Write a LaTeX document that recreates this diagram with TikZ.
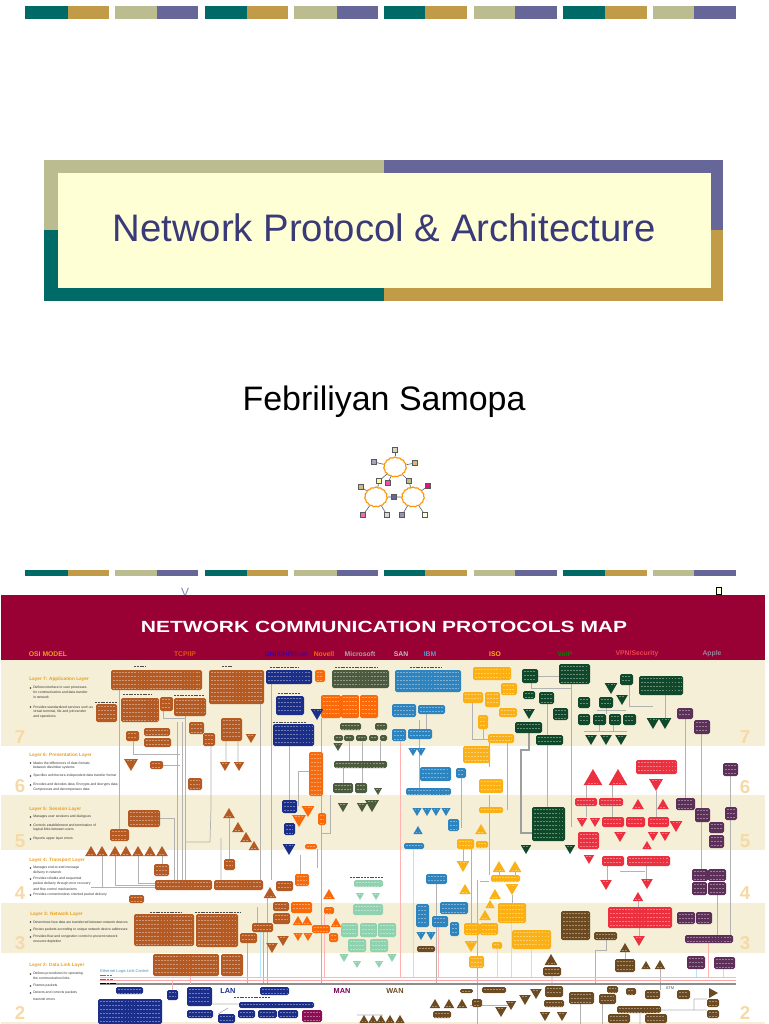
\documentclass[tikz,border=0pt]{standalone}
\usepackage{fontspec}
\setmainfont{Liberation Sans}
\newfontfamily\mapfont[FakeStretch=1.3]{Liberation Sans}
\usetikzlibrary{shapes.symbols}

\definecolor{teal1}{HTML}{006B66}
\definecolor{gold1}{HTML}{C19B48}
\definecolor{sage1}{HTML}{BBBD90}
\definecolor{purp1}{HTML}{666699}
\definecolor{cream1}{HTML}{FFFFD6}
\definecolor{ink1}{HTML}{3A3A78}
\definecolor{burg}{HTML}{990033}
\definecolor{band}{HTML}{F4EFD6}
\definecolor{brn}{HTML}{B55A22}
\definecolor{navy}{HTML}{1B2F8A}
\definecolor{orng}{HTML}{FA6A0A}
\definecolor{oliv}{HTML}{4C5A3E}
\definecolor{sky}{HTML}{2E84BE}
\definecolor{yell}{HTML}{FBB116}
\definecolor{dgrn}{HTML}{10482A}
\definecolor{mrn}{HTML}{5C3058}
\definecolor{redd}{HTML}{EC3040}
\definecolor{dbrn}{HTML}{6C4A22}
\definecolor{mint}{HTML}{90D2B0}
\definecolor{ltxt}{HTML}{E8A020}

\tikzset{
  conn/.style={draw=black!30,line width=.55pt},
  connb/.style={draw=black!38,line width=.9pt},
  rowline/.style={white,opacity=.38,line width=.4pt,dash pattern=on 1.3pt off 1pt},
  laytitle/.style={anchor=west,inner sep=0,text=ltxt,font=\fontsize{3.55}{4}\selectfont\bfseries},
  laytext/.style={anchor=west,inner sep=0,text=black!80,font=\fontsize{2.55}{3}\selectfont},
  colhead/.style={anchor=center,inner sep=0,font=\fontsize{5.1}{6}\selectfont\bfseries},
  digit/.style={anchor=center,inner sep=0,text=ltxt!40,font=\fontsize{14}{15}\selectfont\bfseries},
  netbox/.style={draw=black!65,line width=.5pt,minimum size=3.6pt,inner sep=0},
  netcloud/.style={cloud,cloud puffs=15,cloud puff arc=100,aspect=1.1,draw=orange!85!yellow,line width=.85pt,minimum width=17pt,minimum height=15pt,inner sep=0},
  netedge/.style={draw=black!60,line width=.5pt},
  tinycap/.style={black!70,line width=.45pt,dash pattern=on 1.5pt off .6pt}
}

\newcommand{\bx}[5]{%
  \fill[#5,rounded corners=1.2pt] (#1,#2) rectangle (#3,#4);
  \pgfmathsetmacro{\ystart}{#2+2.2}
  \pgfmathsetmacro{\ynext}{#2+6.2}
  \pgfmathsetmacro{\yend}{#4-1.5}
  \foreach \yy in {\ystart,\ynext,...,\yend}
    \draw[rowline] (#1+2,\yy) -- (#3-2,\yy);
}
\newcommand{\tup}[4]{\fill[#4] (#1,#2) -- ({#1+0.58*(#3-#2)},#3) -- ({#1-0.58*(#3-#2)},#3) -- cycle;
  \draw[rowline] ({#1-0.3*(#3-#2)},{#3-1.5}) -- ({#1+0.3*(#3-#2)},{#3-1.5});}
\newcommand{\tdn}[4]{\fill[#4] ({#1-0.58*(#3-#2)},#2) -- ({#1+0.58*(#3-#2)},#2) -- (#1,#3) -- cycle;
  \draw[rowline] ({#1-0.3*(#3-#2)},{#2+1.5}) -- ({#1+0.3*(#3-#2)},{#2+1.5});}

\begin{document}
\begin{tikzpicture}[x=0.75pt,y=-0.75pt]
\useasboundingbox (0,0) rectangle (768,1024);

\foreach \ya/\yb in {6/19,570/576} {
  \foreach \xa/\xb/\xc in {25/68/109,205/247/288,384/425/467,563/605/647} {
    \fill[teal1] (\xa,\ya) rectangle (\xb,\yb);
    \fill[gold1] (\xb,\ya) rectangle (\xc,\yb);
  }
  \foreach \xa/\xb/\xc in {115/157/198,294/337/378,474/515/557,653/694/736} {
    \fill[sage1] (\xa,\ya) rectangle (\xb,\yb);
    \fill[purp1] (\xb,\ya) rectangle (\xc,\yb);
  }
}

\fill[sage1] (44,160) rectangle (384,230);
\fill[teal1] (44,230) rectangle (384,301);
\fill[purp1] (384,160) rectangle (723,230);
\fill[gold1] (384,230) rectangle (723,301);
\fill[cream1] (58,173) rectangle (711,288);
\node (title) at (384,228) [text=ink1,inner sep=0,font=\fontsize{28.75}{30}\selectfont] {Network Protocol \& Architecture};
\node (author) at (384,402) [inner sep=0,font=\fontsize{25.45}{26}\selectfont] {Febriliyan Samopa};

% network icon
\node (ctop) at (395,467) [netcloud] {};
\node (cleft) at (376,497) [netcloud] {};
\node (cright) at (413,497) [netcloud] {};
\node (na) at (395,450) [netbox,fill=sage1!60] {};
\node (nb) at (374,462) [netbox,fill=purp1!60] {};
\node (nc) at (415,463) [netbox,fill=gold1!70] {};
\node (nd) at (379,481) [netbox,fill=yellow!40] {};
\node (ne) at (388,483) [netbox,fill=magenta!70] {};
\node (nf) at (409,481) [netbox,fill=sage1] {};
\node (ng) at (361,487) [netbox,fill=gold1!70] {};
\node (nh) at (428,486) [netbox,fill=magenta!70!purple] {};
\node (ni) at (394,497) [netbox,fill=purp1] {};
\node (nj) at (363,515) [netbox,fill=magenta!60] {};
\node (nk) at (387,515) [netbox,fill=black!15] {};
\node (nl) at (402,515) [netbox,fill=purp1!70] {};
\node (nm) at (425,515) [netbox,fill=cream1] {};
\foreach \s/\t in {ctop/na,ctop/nb,ctop/nc,ctop/nd,nd/cleft,ctop/ne,ctop/nf,nf/cright,cleft/ng,cright/nh,cleft/ni,ni/cright,cleft/nj,cleft/nk,cright/nl,cright/nm}
  \draw[netedge] (\s) -- (\t);

\node (stray) at (185,592) [inner sep=0,text=purp1!80,font=\fontsize{9}{9}\selectfont] {V};
\node (mark) at (719,591) [draw=black,fill=cream1,line width=.7pt,inner sep=0,minimum width=3.6pt,minimum height=4.6pt] {};

% map background
\fill[burg] (1,595) rectangle (765,660);
\foreach \ya/\yb in {660/746,795/850,903/953,1022/1024}
  \fill[band] (1,\ya) rectangle (765,\yb);
\node (maptitle) at (384,627) [inner sep=0,text=white,font=\fontsize{12.1}{12}\selectfont\mapfont\bfseries] {NETWORK COMMUNICATION PROTOCOLS MAP};

\node (hosi) at (48,654) [colhead,text=ltxt] {OSI MODEL};
\node (htcp) at (185,654) [colhead,text=orng!80!burg] {TCP/IP};
\node (hunix) at (286,654) [colhead,text=blue!60!burg] {UNIX/HP/Sun};
\node (hnov) at (324,654) [colhead,text=orng] {Novell};
\node (hms) at (360,654) [colhead,text=oliv!50!white] {Microsoft};
\node (hsan) at (401,654) [colhead,text=black!25] {SAN};
\node (hibm) at (430,654) [colhead,text=sky!80!white] {IBM};
\node (hiso) at (495,654) [colhead,text=yell] {ISO};
\node (hvoip) at (565,654) [colhead,text=green!50!black] {VoIP};
\node (hvpn) at (637,654) [colhead,text=redd!90!white] {VPN/Security};
\node (happ) at (712,654) [colhead,text=mrn!60!white] {Apple};

% layer text
\node (lay7) at (29,679) [laytitle] {Layer 7: Application Layer};
\node (t7a) at (33,688) [laytext] {Defines interface to user processes};
\node (t7b) at (33,692) [laytext] {for communication and data transfer};
\node (t7c) at (33,697) [laytext] {in network};
\node (t7d) at (33,707) [laytext] {Provides standardized services such as};
\node (t7e) at (33,712) [laytext] {virtual terminal, file and job transfer};
\node (t7f) at (33,717) [laytext] {and operations};
\node (lay6) at (29,755) [laytitle] {Layer 6: Presentation Layer};
\node (t6a) at (33,763) [laytext] {Masks the differences of data formats};
\node (t6b) at (33,768) [laytext] {between dissimilar systems};
\node (t6c) at (33,776) [laytext] {Specifies architecture-independent data transfer format};
\node (t6d) at (33,785) [laytext] {Encodes and decodes data; Encrypts and decrypts data;};
\node (t6e) at (33,790) [laytext] {Compresses and decompresses data};
\node (lay5) at (29,809) [laytitle] {Layer 5: Session Layer};
\node (t5a) at (33,817) [laytext] {Manages user sessions and dialogues};
\node (t5b) at (33,825) [laytext] {Controls establishment and termination of};
\node (t5c) at (33,830) [laytext] {logical links between users};
\node (t5d) at (33,839) [laytext] {Reports upper layer errors};
\node (lay4) at (29,860) [laytitle] {Layer 4: Transport Layer};
\node (t4a) at (33,868) [laytext] {Manages end-to-end message};
\node (t4b) at (33,873) [laytext] {delivery in network};
\node (t4c) at (33,879) [laytext] {Provides reliable and sequential};
\node (t4d) at (33,884) [laytext] {packet delivery through error recovery};
\node (t4e) at (33,889) [laytext] {and flow control mechanisms};
\node (t4f) at (33,895) [laytext] {Provides connectionless oriented packet delivery};
\node (lay3) at (30,914) [laytitle] {Layer 3: Network Layer};
\node (t3a) at (33,922) [laytext] {Determines how data are transferred between network devices};
\node (t3b) at (33,930) [laytext] {Routes packets according to unique network device addresses};
\node (t3c) at (33,937) [laytext] {Provides flow and congestion control to prevent network};
\node (t3d) at (33,942) [laytext] {resource depletion};
\node (lay2) at (29,965) [laytitle] {Layer 2: Data Link Layer};
\node (t2a) at (33,974) [laytext] {Defines procedures for operating};
\node (t2b) at (33,978) [laytext] {the communication links};
\node (t2c) at (33,986) [laytext] {Frames packets};
\node (t2d) at (33,993) [laytext] {Detects and corrects packets};
\node (t2e) at (33,999) [laytext] {transmit errors};
\foreach \yy in {688,707,763,776,785,817,825,839,868,879,895,922,930,937,974,986,993}
  \fill[black!75] (30.5,\yy) circle (.8);

\foreach \n/\ya/\yb in {7/737/737,6/786/787,5/841/841,4/893/893,3/943/943,2/1013/1013} {
  \node at (20,\ya) [digit] {\n};
  \node at (745,\yb) [digit] {\n};
}

% connectors
\draw[conn] (119,690) -- (119,829) (177,722) -- (177,880) (182,722) -- (182,880) (185,716) -- (185,880);
\draw[conn] (133,741) -- (133,754) -- (180,754) (163,765) -- (180,765) (163,711) -- (163,718) -- (185,718);
\draw[conn] (211,746) -- (211,808) -- (210,842) -- (185,842) (221,838) -- (221,880) (226,741) -- (226,762) (238,741) -- (238,762);
\draw[conn] (260,704) -- (260,880) (271,684) -- (271,880) (229,818) -- (229,859) (289,746) -- (289,800);
\draw[conn] (298,771) -- (309,771) (298,771) -- (298,806) (330,795) -- (330,833) -- (322,833);
\draw[conn] (343,768) -- (343,783) (362,768) -- (362,783) (349,741) -- (349,761) (362,741) -- (362,761) (380,741) -- (380,761);
\draw[conn] (91,887) -- (155,887) (102,856) -- (102,887) (115,856) -- (115,885) -- (155,885) (138,856) -- (138,883) -- (155,883) (162,856) -- (162,864);
\draw[conn] (160,818) -- (174,818) -- (174,880) (247,943) -- (247,985) (263,932) -- (263,985) (267,898) -- (267,985) (257,907) -- (257,923);
\draw[conn] (317,849) -- (317,868) (321,718) -- (321,752) (321,795) -- (321,985);
\draw[connb] (529,733) -- (529,750) -- (521,750) -- (521,833) -- (532,833);
\draw[conn] (547,704) -- (547,807) (571,684) -- (571,827) (685,719) -- (685,798) (701,734) -- (701,869) (730,776) -- (730,935) (507,743) -- (507,810) (461,778) -- (461,828);
\draw[conn] (489,795) -- (489,875) (489,743) -- (489,767) (477,880) -- (477,1024) (426,714) -- (426,729) (419,720) -- (419,788) (471,849) -- (471,923) (436,884) -- (436,984);
\draw[conn] (606,940) -- (606,950) -- (595,950) -- (595,985) (717,895) -- (717,935) (584,731) -- (627,731) (597,710) -- (626,710);
\draw[conn] (629,685) -- (629,706) -- (653,706) (665,695) -- (665,718) (538,676) -- (559,676) (531,683) -- (531,688) -- (572,688);
\draw[conn] (472,703) -- (472,739) -- (488,739) (483,729) -- (483,739) (599,725) -- (599,731) (613,725) -- (613,731) (606,708) -- (606,714);
\draw[conn] (586,785) -- (586,817) (612,785) -- (612,817) (656,791) -- (656,817) (646,866) -- (646,880) (607,866) -- (607,880) (620,871) -- (645,871);
\draw[conn] (357,1015) -- (383,1015) (213,1004) -- (239,1004) (228,1008) -- (218,1014) (661,1010) -- (707,1010) (694,999) -- (707,999) (694,999) -- (694,1010) (640,1014) -- (640,1024) (552,976) -- (552,986);
\draw[conn] (463,849) -- (463,861) (512,895) -- (512,903) (499,872) -- (499,875) (515,872) -- (515,875) (480,881) -- (489,881) (638,901) -- (638,907) (639,928) -- (639,936) (300,855) -- (300,874);
\draw[conn] (580,1004) -- (580,1024) (602,1004) -- (602,1024) (470,1005) -- (510,1005) (625,952) -- (625,959) (660,969) -- (660,990);

% colored rails
\draw[cyan!40,line width=.7pt] (100,977) -- (736,977);
\draw[red!35,line width=.7pt] (100,980) -- (736,980);
\draw[black!45,line width=.8pt] (100,984) -- (736,984);
\draw[cyan!30,line width=.5pt] (413,849) -- (413,977) (497,949) -- (497,977) (511,923) -- (511,977) (531,949) -- (531,977) (260,932) -- (260,977) (696,969) -- (696,977) (723,969) -- (723,977);
\draw[red!30,line width=.5pt] (400,741) -- (400,977) (438,927) -- (438,977) (172,980) -- (172,990) (190,976) -- (190,984) (708,943) -- (708,977) (324,914) -- (324,977);

\node (llc) at (100,971) [anchor=west,inner sep=0,text=cyan!70!black,font=\fontsize{3}{3}\selectfont] {Ethernet Logic Link Control};
\draw[cyan!60!black,line width=.6pt,dash pattern=on 2pt off .5pt] (100,975) -- (112,975);
\draw[redd,line width=.6pt,dash pattern=on 2pt off .5pt] (100,979) -- (113,979);
\draw[black,line width=.6pt,dash pattern=on 2pt off .5pt] (100,983) -- (116,983);
\node (hlan) at (228,991) [inner sep=0,text=navy,font=\fontsize{5.5}{6}\selectfont\bfseries] {LAN};
\node (hman) at (342,991) [inner sep=0,text=burg!80!blue,font=\fontsize{5.5}{6}\selectfont\bfseries] {MAN};
\node (hwan) at (395,991) [inner sep=0,text=dbrn,font=\fontsize{5.5}{6}\selectfont\bfseries] {WAN};
\node (hatm) at (670,988) [inner sep=0,text=black!70,font=\fontsize{3}{3}\selectfont] {ATM};
\draw[tinycap] (234,997) -- (270,997);
\foreach \xa/\xb/\yy in {134/146/666,222/233/666,270/299/667,335/378/667,410/442/667,123/152/694,174/204/695,95/117/702,278/300/693,273/306/722,350/383/877,150/182/912,195/240/912}
  \draw[tinycap] (\xa,\yy) -- (\xb,\yy);

% boxes
\foreach \xa/\ya/\xb/\yb in {111/670/202/690,209/670/264/704,96/704/117/722,121/698/159/722,160/697/173/711,174/698/206/716,189/722/204/734,221/718/242/741,126/731/139/741,144/728/170/736,144/738/171/747,203/733/215/746,150/761/163/769,188/778/202/790,128/810/160/827,110/829/129/841,154/864/169/876,224/859/235/870,155/880/212/890,214/880/263/890,129/895/144/903,276/881/293/891,273/902/289/911,273/913/290/924,252/923/273/932,240/933/257/943,134/914/194/946,196/914/238/947,153/954/219/976,221/954/243/976}
  \bx{\xa}{\ya}{\xb}{\yb}{brn};
\foreach \xa/\ya/\xb/\yb in {266/670/312/684,276/696/304/715,273/724/314/746,282/800/297/813,284/823/295/835,116/987/143/994,98/999/162/1024,167/990/178/1000,187/987/212/1006,187/1010/213/1018,218/1014/235/1023,238/1010/255/1018,260/987/289/995,239/1002/314/1008,258/1010/277/1018,278/1010/298/1018}
  \bx{\xa}{\ya}{\xb}{\yb}{navy};
\bx{302}{1010}{322}{1022}{purple!70!navy}
\foreach \xa/\ya/\xb/\yb in {315/670/325/682,321/695/341/718,341/695/359/718,360/695/378/718,309/752/323/796,318/813/326/825,305/844/317/849,295/874/309/886,291/902/312/913,324/907/334/914,312/925/330/933,329/933/338/942}
  \bx{\xa}{\ya}{\xb}{\yb}{orng};
\foreach \xa/\ya/\xb/\yb in {332/670/389/688,340/723/361/730,375/723/387/730,334/735/343/741,344/735/354/741,356/735/367/741,369/735/378/741,380/735/387/741,334/761/387/768,333/783/353/793,355/783/367/793}
  \bx{\xa}{\ya}{\xb}{\yb}{oliv};
\foreach \xa/\ya/\xb/\yb in {395/670/461/692,392/704/416/717,418/705/445/714,392/729/406/741,408/729/432/739,420/767/451/781,456/768/466/778,406/788/451/795,448/819/459/831,404/843/424/849,426/874/447/884,416/904/429/927,440/902/468/914,432/916/448/927,450/922/459/936}
  \bx{\xa}{\ya}{\xb}{\yb}{sky};
\foreach \xa/\ya/\xb/\yb in {473/667/511/680,501/683/517/695,463/692/483/703,485/692/500/707,499/708/517/717,478/715/488/729,488/734/514/743,463/746/490/763,479/779/503/793,479/807/503/813,457/839/474/849,476/841/488/848,491/875/520/882,498/903/526/923,464/923/480/935,480/923/498/935,512/930/551/949,492/942/502/949,469/956/484/968}
  \bx{\xa}{\ya}{\xb}{\yb}{yell};
\foreach \xa/\ya/\xb/\yb in {522/669/538/683,559/664/590/684,523/691/535/699,539/692/554/704,553/708/568/720,515/722/542/733,536/735/563/745,620/674/633/685,639/676/683/695,578/697/590/708,599/697/613/708,578/714/590/725,593/714/606/725,609/714/621/725,623/714/636/725,532/807/565/841}
  \bx{\xa}{\ya}{\xb}{\yb}{dgrn};
\foreach \xa/\ya/\xb/\yb in {677/708/693/719,694/720/710/734,723/763/738/776,676/798/695/810,695/808/710/822,725/807/737/820,709/822/724/833,709/835/724/848,692/869/708/881,708/869/726/881,692/882/707/895,708/882/726/895,677/912/695/924,696/912/712/924,685/935/733/943,687/956/705/969,714/957/735/969}
  \bx{\xa}{\ya}{\xb}{\yb}{mrn};
\foreach \xa/\ya/\xb/\yb in {636/760/677/774,575/798/597/806,599/798/623/806,602/817/624/827,626/817/645/827,648/817/669/827,578/832/599/849,602/856/624/866,627/856/670/866,608/907/672/928}
  \bx{\xa}{\ya}{\xb}{\yb}{redd};
\foreach \xa/\ya/\xb/\yb in {561/911/590/940,594/932/617/940,417/946/435/952,543/967/561/976,615/959/635/972,460/989/473/993,482/987/506/993,472/999/482/1007,433/1011/451/1018,545/986/563/997,544/1000/564/1007,569/992/594/1004,599/994/616/1004,607/986/618/993,626/988/636/995,645/990/660/999,677/990/690/999,617/1006/661/1013,608/1014/630/1023,645/1014/667/1023,707/999/719/1007,707/1010/719/1018}
  \bx{\xa}{\ya}{\xb}{\yb}{dbrn};
\foreach \xa/\ya/\xb/\yb in {354/880/383/887,353/904/383/915,341/923/358/937,360/923/377/937,378/923/396/937,348/939/366/952,370/939/388/952}
  \bx{\xa}{\ya}{\xb}{\yb}{mint};

% triangles
\foreach \xc/\ya/\yb/\col in {91/846/856/brn,102/846/856/brn,115/846/856/brn,126/846/856/brn,138/846/856/brn,150/846/856/brn,162/846/856/brn,229/808/818/brn,238/822/832/brn,246/832/842/brn,254/841/850/brn,270/887/898/brn,329/889/899/orng,298/916/925/orng,307/916/925/orng,336/918/927/orng,418/826/834/sky,481/824/834/yell,499/861/872/yell,515/861/872/yell,465/884/894/yell,495/889/899/yell,490/900/908/yell,485/910/920/yell,593/769/785/redd,618/769/785/redd,638/799/809/redd,663/799/809/redd,647/841/849/redd,638/892/901/redd,551/954/965/dbrn,625/943/952/dbrn,646/961/969/dbrn,660/960/969/dbrn,435/999/1008/dbrn,449/999/1008/dbrn,462/999/1008/dbrn,364/1015/1023/dbrn,373/1015/1023/dbrn,381/1015/1023/dbrn,390/1015/1023/dbrn,400/1015/1023/dbrn}
  \tup{\xc}{\ya}{\yb}{\col};
\foreach \xc/\ya/\yb/\col in {251/734/743/brn,131/759/771/brn,225/762/771/brn,239/762/771/brn,272/943/953/brn,283/936/946/brn,317/709/720/navy,289/844/855/navy,299/815/827/orng,308/806/817/orng,298/933/941/orng,308/933/941/orng,338/743/751/oliv,378/788/795/oliv,343/803/812/oliv,362/803/812/oliv,372/800/812/oliv,413/748/756/sky,421/748/756/sky,417/808/816/sky,427/808/816/sky,436/808/816/sky,446/808/816/sky,421/932/940/sky,431/932/940/sky,463/861/872/yell,512/884/895/yell,471/941/952/yell,611/683/694/dgrn,622/695/705/dgrn,529/709/719/dgrn,653/718/729/dgrn,665/718/729/dgrn,591/735/745/dgrn,606/735/745/dgrn,621/735/745/dgrn,526/845/854/dgrn,570/845/854/dgrn,656/779/791/redd,582/818/827/redd,595/818/827/redd,676/821/832/redd,620/832/842/redd,653/832/841/redd,665/832/841/redd,589/855/864/redd,606/880/890/redd,647/879/889/redd,639/936/946/redd,360/893/900/mint,376/893/900/mint,344/954/962/mint,357/961/968/mint,379/961/968/mint,392/954/962/mint,501/1007/1017/dbrn,511/1001/1010/dbrn,525/995/1005/dbrn,536/989/999/dbrn,545/1012/1021/dbrn,562/1012/1021/dbrn}
  \tdn{\xc}{\ya}{\yb}{\col};
\fill[dbrn] (709,988) -- (718,993) -- (709,998) -- cycle;
\end{tikzpicture}
\end{document}
